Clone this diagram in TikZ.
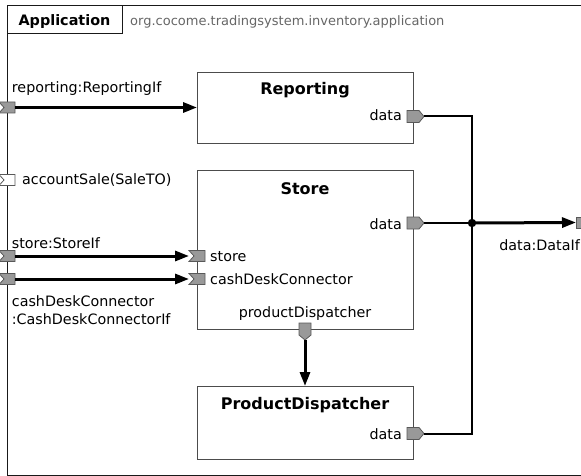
\documentclass[tikz,border=0pt]{standalone}
\usepackage{fontspec}
\setmainfont{DejaVu Sans}
\usetikzlibrary{arrows.meta}

\tikzset{
  frameline/.style={draw=black!90, line width=1.3pt},
  blockbox/.style={draw=black!70, line width=1pt, fill=white, inner sep=0pt, anchor=north west, minimum width=216pt},
  portshape/.style={draw=black!65, fill=black!40, line width=0.8pt},
  wire/.style={line width=2pt},
  flow/.style={line width=3pt, -{Triangle[length=14pt,width=10pt]}},
  lbl/.style={font=\fontsize{14.3}{17}\selectfont, inner sep=0pt},
  ttl/.style={font=\fontsize{16}{19}\selectfont\bfseries, inner sep=0pt},
  % output port pointing east, body centred on the border
  outE/.pic={
    \path[portshape] (-6,-6) -- (6,-6) -- (11,0) -- (6,6) -- (-6,6) -- cycle;
    \coordinate (-tip) at (11,0);
  },
  % output port pointing south
  outS/.pic={
    \path[portshape] (-6,-6) -- (6,-6) -- (6,6) -- (0,11) -- (-6,6) -- cycle;
    \coordinate (-tip) at (0,11);
  },
  % input port with a notch on its west side
  inE/.pic={
    \path[portshape] (-8,-5.5) -- (8,-5.5) -- (8,5.5) -- (-8,5.5) -- (-3,0) -- cycle;
    \coordinate (-in) at (-8,0);
    \coordinate (-out) at (8,0);
  },
  inEw/.pic={
    \path[portshape, fill=white] (-8,-5.5) -- (8,-5.5) -- (8,5.5) -- (-8,5.5) -- (-3,0) -- cycle;
    \coordinate (-in) at (-8,0);
    \coordinate (-out) at (8,0);
  },
  plainport/.pic={
    \path[portshape] (-8,-5.5) rectangle (8,5.5);
    \coordinate (-in) at (-8,0);
  },
}

\begin{document}
\begin{tikzpicture}[x=1pt, y=-1pt]
\useasboundingbox (0,0) rectangle (581,476);

% enclosing component frame and its header
\node[frameline, anchor=north west, inner sep=0pt, minimum width=577pt, minimum height=470pt] (app) at (7,5) {};
\node[frameline, line width=1pt, anchor=north west, inner sep=0pt, minimum width=115pt, minimum height=28pt] (apphead) at (7,5) {};
\node[font=\fontsize{14.4}{17}\selectfont\bfseries, anchor=base, inner sep=0pt] (appname) at (64.5,26) {Application};
\node[font=\fontsize{13}{16}\selectfont, text=black!60, anchor=base west, inner sep=0pt] (apppkg) at (130,26) {org.cocome.tradingsystem.inventory.application};

% inner components
\node[blockbox, minimum height=71pt] (rep) at (197,72) {};
\node[blockbox, minimum height=159pt] (store) at (197,170) {};
\node[blockbox, minimum height=73pt] (pd) at (197,386) {};

\node[ttl, anchor=base] (reptitle) at (305,95) {Reporting};
\node[ttl, anchor=base] (storetitle) at (305,194) {Store};
\node[ttl, anchor=base] (pdtitle) at (305,409) {ProductDispatcher};

% ports
\pic (reportingp) at (7,107.5) {inE};
\pic (salep) at (7,180) {inEw};
\pic (storep) at (7,256) {inE};
\pic (cdcp) at (7,279) {inE};
\pic (storein) at (197,256) {inE};
\pic (cdcin) at (197,279) {inE};
\pic (repdata) at (413,116.5) {outE};
\pic (storedata) at (413,223) {outE};
\pic (pddata) at (413,433.5) {outE};
\pic (storepd) at (305,329) {outS};
\pic (datap) at (584,222.5) {plainport};
\coordinate (j) at (472,223);

% connectors
\draw[flow] (reportingp-out) -- (reportingp-out -| rep.west);
\draw[flow] (storep-out) -- (storein-in);
\draw[flow] (cdcp-out) -- (cdcin-in);
\draw[flow] (storepd-tip) -- (storepd-tip |- pd.north);
\draw[wire] (repdata-tip) -| (j);
\draw[wire] (pddata-tip) -| (j);
\draw[wire] (storedata-tip) -- (j);
\draw[flow] (j) -- (datap-in);
\fill (j) circle[radius=4.2pt];

% labels
\node[lbl, anchor=base west] (lrep) at (11.7,92.7) {reporting:ReportingIf};
\node[lbl, anchor=base west] (lsale) at (22,185) {accountSale(SaleTO)};
\node[lbl, anchor=base west] (lstore) at (11.7,248.3) {store:StoreIf};
\node[lbl, anchor=base west] (lcdc1) at (11.7,306) {cashDeskConnector};
\node[lbl, anchor=base west] (lcdc2) at (11.7,324) {:CashDeskConnectorIf};
\node[lbl, anchor=base west] (lstorein) at (210,261) {store};
\node[lbl, anchor=base west] (lcdcin) at (210,284) {cashDeskConnector};
\node[lbl, anchor=base] (lpdout) at (305,317) {productDispatcher};
\node[lbl, anchor=base east] (lrepdata) at (402,121) {data};
\node[lbl, anchor=base east] (lstoredata) at (402,229) {data};
\node[lbl, anchor=base east] (lpddata) at (402,439) {data};
\node[lbl, anchor=base east] (ldata) at (580,250) {data:DataIf};
\end{tikzpicture}
\end{document}
